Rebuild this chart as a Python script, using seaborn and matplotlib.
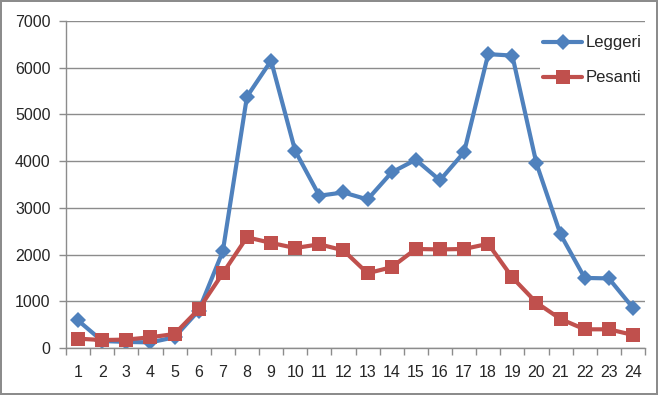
import pandas as pd
import numpy as np
import matplotlib
matplotlib.use('Agg')
import matplotlib.pyplot as plt
import seaborn as sns

# Data
ore = list(range(1, 25))
leggeri = [590, 150, 130, 120, 230, 800, 2070, 5380, 6150, 4220, 3260, 3330,
           3180, 3760, 4030, 3590, 4190, 6290, 6260, 3950, 2430, 1500, 1490, 860]
pesanti = [200, 170, 180, 230, 300, 830, 1600, 2370, 2250, 2140, 2220, 2090,
           1600, 1730, 2120, 2110, 2120, 2230, 1510, 970, 620, 400, 400, 280]
serie = ['Leggeri', 'Pesanti']
colori = ['#4F81BD', '#C0504D']

df = pd.DataFrame({'ora': ore * 2,
                   'valore': leggeri + pesanti,
                   'serie': ['Leggeri'] * 24 + ['Pesanti'] * 24})

sns.set_style('white')
plt.rcParams['font.family'] = ['Liberation Sans', 'DejaVu Sans']

fig = plt.figure(figsize=(6.58, 3.95), dpi=100)
fig.patch.set_edgecolor('#8c8c8c')
fig.patch.set_linewidth(1.5)
ax = fig.add_axes([66 / 658, 1 - 348 / 395, (645 - 66) / 658, (348 - 21) / 395])

sns.lineplot(data=df, x='ora', y='valore', hue='serie', style='serie',
             palette=dict(zip(serie, colori)), markers={'Leggeri': 'D', 'Pesanti': 's'},
             dashes=False, linewidth=3, markersize=8, markeredgewidth=0, ax=ax,
             legend=False)
# bigger squares for Pesanti
for line, ms in zip(ax.lines, [8.5, 10]):
    line.set_markersize(ms)

ax.set_xlim(0.5, 24.5)
ax.set_ylim(0, 7000)
ax.set_yticks(range(0, 7001, 1000))
ax.set_xticks(ore)
ax.set_xticks(np.arange(0.5, 25, 1), minor=True)
ax.set_xlabel('')
ax.set_ylabel('')
ax.yaxis.grid(True, color='#8c8c8c', linewidth=1)
ax.set_axisbelow(True)
for s in ['top', 'right']:
    ax.spines[s].set_visible(False)
for s in ['left', 'bottom']:
    ax.spines[s].set_color('#8c8c8c')
    ax.spines[s].set_linewidth(1)
ax.tick_params(axis='x', which='major', length=0, pad=12, labelsize=11.5)
ax.tick_params(axis='x', which='minor', length=5, color='#8c8c8c', width=1, direction='out')
ax.tick_params(axis='y', length=5, color='#8c8c8c', width=1, direction='out', pad=6, labelsize=11.5)
ax.tick_params(bottom=True, left=True, which='both')

handles = [plt.Line2D([], [], color=colori[0], marker='D', lw=3, ms=8.5, mew=0),
           plt.Line2D([], [], color=colori[1], marker='s', lw=3, ms=10, mew=0)]
leg = ax.legend(handles, serie, loc='upper left', bbox_to_anchor=(540 / 658, 1 - 32 / 395),
                bbox_transform=fig.transFigure, frameon=True, fontsize=12,
                handlelength=2.3, labelspacing=1.2, borderaxespad=0, handletextpad=0.25,
                borderpad=0.2)
leg.get_frame().set_facecolor('white')
leg.get_frame().set_edgecolor('none')
leg.get_frame().set_alpha(1)

fig.savefig('out.png', dpi=100)
